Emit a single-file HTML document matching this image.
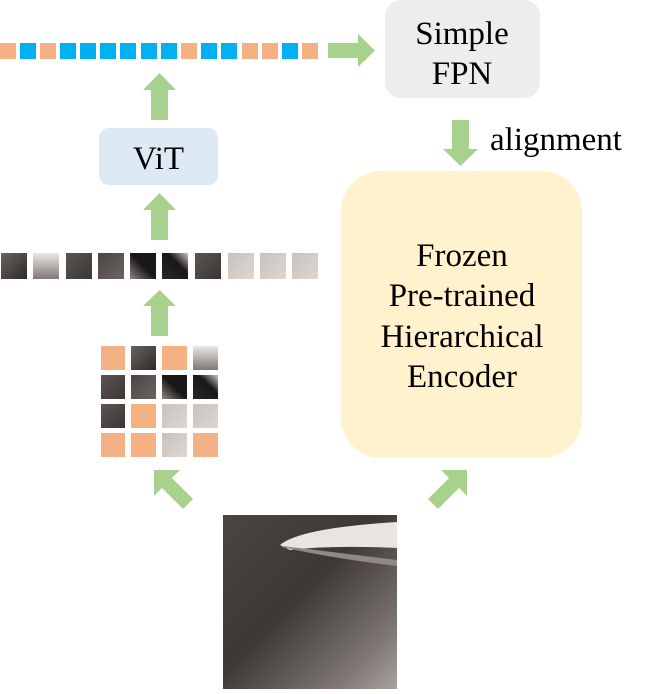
<!DOCTYPE html>
<html><head><style>
body{margin:0;background:#fff}
svg text{font-family:"Liberation Serif",serif;fill:#000}
</style></head><body>
<svg width="655" height="689" xmlns="http://www.w3.org/2000/svg">
<defs>
<linearGradient id="ph" x1="0" y1="0" x2="1" y2="1"><stop offset="0" stop-color="#6a6360"/><stop offset="1" stop-color="#2e2a29"/></linearGradient>
<linearGradient id="g1" x1="0" y1="0" x2="1" y2="1"><stop offset="0" stop-color="#5c5553"/><stop offset="1" stop-color="#3a3534"/></linearGradient>
<linearGradient id="g2" x1="0" y1="0" x2="1" y2="1"><stop offset="0" stop-color="#4a4443"/><stop offset="1" stop-color="#6b6462"/></linearGradient>
<linearGradient id="g3" x1="0" y1="1" x2="1" y2="0"><stop offset="0" stop-color="#8d8582"/><stop offset="0.5" stop-color="#1a1717"/><stop offset="1" stop-color="#1a1717"/></linearGradient>
<linearGradient id="g4" x1="0" y1="1" x2="1" y2="0"><stop offset="0" stop-color="#2a2626"/><stop offset="0.6" stop-color="#1a1717"/><stop offset="1" stop-color="#cfc7c2"/></linearGradient>
<linearGradient id="g5" x1="0" y1="0" x2="1" y2="1"><stop offset="0" stop-color="#c9c1bb"/><stop offset="1" stop-color="#ded7d1"/></linearGradient>
<linearGradient id="img" x1="0" y1="0" x2="1" y2="1"><stop offset="0" stop-color="#4a4443"/><stop offset="0.45" stop-color="#3d3836"/><stop offset="0.8" stop-color="#7a7370"/><stop offset="1" stop-color="#a9a29d"/></linearGradient>
<linearGradient id="w1" x1="0" y1="0" x2="0" y2="1"><stop offset="0" stop-color="#ece8e6"/><stop offset="1" stop-color="#7f7875"/></linearGradient>
</defs>

<g>
<rect x="0" y="43" width="16" height="16" fill="#f4b183"/>
<rect x="20" y="43" width="16" height="16" fill="#00b0f0"/>
<rect x="40" y="43" width="16" height="16" fill="#f4b183"/>
<rect x="60" y="43" width="16" height="16" fill="#00b0f0"/>
<rect x="80" y="43" width="16" height="16" fill="#00b0f0"/>
<rect x="100" y="43" width="16" height="16" fill="#00b0f0"/>
<rect x="120" y="43" width="16" height="16" fill="#00b0f0"/>
<rect x="141" y="43" width="16" height="16" fill="#00b0f0"/>
<rect x="161" y="43" width="16" height="16" fill="#00b0f0"/>
<rect x="181" y="43" width="16" height="16" fill="#f4b183"/>
<rect x="201" y="43" width="16" height="16" fill="#00b0f0"/>
<rect x="221" y="43" width="16" height="16" fill="#00b0f0"/>
<rect x="242" y="43" width="16" height="16" fill="#f4b183"/>
<rect x="262" y="43" width="16" height="16" fill="#f4b183"/>
<rect x="282" y="43" width="16" height="16" fill="#00b0f0"/>
<rect x="302" y="43" width="16" height="16" fill="#f4b183"/>
</g>
<polygon points="328,43 358,43 358,34 375,50.5 358,67 358,58 328,58" fill="#a9d18e"/>

<rect x="385" y="0" width="155" height="98" rx="16" fill="#ededed"/>
<text x="462" y="44" font-size="33" text-anchor="middle">Simple</text>
<text x="462" y="84" font-size="33" text-anchor="middle">FPN</text>

<polygon points="151,120 151,90 143,90 159.5,73 176,90 168,90 168,120" fill="#a9d18e"/>
<polygon points="151,240 151,210 143,210 159.5,193 176,210 168,210 168,240" fill="#a9d18e"/>
<polygon points="151,336 151,306 143,306 159.5,290 176,306 168,306 168,336" fill="#a9d18e"/>

<rect x="99" y="128" width="119" height="57" rx="10" fill="#dde9f5"/>
<text x="158.5" y="169" font-size="33" text-anchor="middle">ViT</text>

<rect x="1" y="253" width="26" height="26" fill="url(#ph)"/>
<rect x="33" y="253" width="26" height="26" fill="url(#w1)"/>
<rect x="66" y="253" width="26" height="26" fill="url(#g1)"/>
<rect x="98" y="253" width="26" height="26" fill="url(#g2)"/>
<rect x="130" y="253" width="26" height="26" fill="url(#g3)"/>
<rect x="162" y="253" width="26" height="26" fill="url(#g4)"/>
<rect x="195" y="253" width="26" height="26" fill="url(#g1)"/>
<rect x="228" y="253" width="26" height="26" fill="url(#g5)"/>
<rect x="260" y="253" width="26" height="26" fill="url(#g5)"/>
<rect x="292" y="253" width="26" height="26" fill="url(#g5)"/>

<rect x="101" y="346" width="24" height="24" fill="#f4b183"/>
<rect x="131" y="346" width="25" height="24" fill="url(#ph)"/>
<rect x="162" y="346" width="25" height="24" fill="#f4b183"/>
<rect x="193" y="346" width="25" height="24" fill="url(#w1)"/>
<rect x="101" y="375" width="24" height="24" fill="url(#g1)"/>
<rect x="131" y="375" width="25" height="24" fill="url(#g2)"/>
<rect x="162" y="375" width="25" height="24" fill="url(#g3)"/>
<rect x="193" y="375" width="25" height="24" fill="url(#g4)"/>
<rect x="101" y="404" width="24" height="24" fill="url(#g1)"/>
<rect x="131" y="404" width="25" height="24" fill="#f4b183"/>
<rect x="162" y="404" width="25" height="24" fill="url(#g5)"/>
<rect x="193" y="404" width="25" height="24" fill="url(#g5)"/>
<rect x="101" y="433" width="24" height="24" fill="#f4b183"/>
<rect x="131" y="433" width="25" height="24" fill="#f4b183"/>
<rect x="162" y="433" width="25" height="24" fill="url(#g5)"/>
<rect x="193" y="433" width="25" height="24" fill="#f4b183"/>

<polygon points="154,470 180,470 172,478 193,499 183,509 162,488 154,496" fill="#a9d18e"/>
<polygon points="467,470 441,470 449,478 428,499 438,509 459,488 467,496" fill="#a9d18e"/>

<polygon points="452,120 469,120 469,149 478,149 460.5,166 443,149 452,149" fill="#a9d18e"/>
<text x="490" y="150" font-size="33">alignment</text>

<rect x="341" y="171" width="241" height="287" rx="40" fill="#fff2cc"/>
<text x="462" y="266" font-size="33" text-anchor="middle">Frozen</text>
<text x="462" y="306" font-size="33" text-anchor="middle">Pre-trained</text>
<text x="462" y="347" font-size="33" text-anchor="middle">Hierarchical</text>
<text x="462" y="387" font-size="33" text-anchor="middle">Encoder</text>

<rect x="223" y="515" width="174" height="174" fill="url(#img)"/>
<path d="M280,545 Q300,528 397,522 L397,548 Q330,545 290,550 Z" fill="#e8e4e2"/>
<path d="M282,546 Q300,548 340,553 L397,560 L397,566 Q330,558 282,547 Z" fill="#8f8885"/>
</svg>
</body></html>
